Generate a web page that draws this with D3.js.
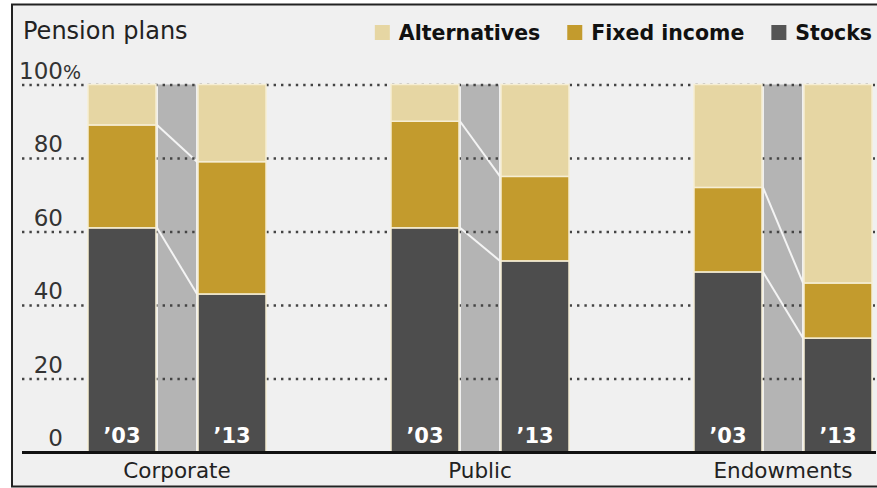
<!DOCTYPE html>
<html lang="en">
<head>
  <meta charset="UTF-8">
  <title>Pension plans</title>
  <style>
    body { margin: 0; background: #fff; }
    svg { display: block; }
    text { font-family: "DejaVu Sans", sans-serif; }
  </style>
</head>
<body>
  <svg width="877" height="488"></svg>

  <script src="https://d3js.org/d3.v7.min.js"></script>
  <script>
  // data (percent of portfolio)
  var groups = ["Corporate", "Public", "Endowments"];
  var years = ["\u201903", "\u201913"];
  var keys = ["Stocks", "Fixed income", "Alternatives"];
  var stocks = [[61, 43], [61, 52], [49, 31]];
  var fixedIncome = [[28, 36], [29, 23], [23, 15]];
  var alternatives = [[11, 21], [10, 25], [28, 54]];
  var yTicks = [0, 20, 40, 60, 80, 100];
  var legendOrder = ["Alternatives", "Fixed income", "Stocks"];

  var colors = {
    "Stocks": "#4d4d4d",
    "Fixed income": "#c39b2d",
    "Alternatives": "#e6d6a3"
  };

  var svg = d3.select("svg");

  // rows for the stack
  var rows = [];
  groups.forEach(function(g, i) {
    years.forEach(function(yr, j) {
      rows.push({
        group: g, year: yr,
        "Stocks": stocks[i][j],
        "Fixed income": fixedIncome[i][j],
        "Alternatives": alternatives[i][j]
      });
    });
  });
  var stacked = d3.stack().keys(keys)(rows);

  var x0 = d3.scaleBand().domain(groups).range([88, 872]).paddingInner(0.4125);
  var x1 = d3.scaleBand().domain(years).range([0, x0.bandwidth()]).paddingInner(0.382);
  var y = d3.scaleLinear().domain([0, 100]).range([452, 84.5]);

  // frame
  svg.append("rect")
    .attr("x", 12).attr("y", 4.5)
    .attr("width", 866).attr("height", 482)
    .attr("fill", "#f0f0f0")
    .attr("stroke", "#222").attr("stroke-width", 2);

  // grey connectors between the two years
  var bw = x1.bandwidth();
  var conn = svg.append("g").selectAll("g")
    .data(groups)
    .enter().append("g");

  conn.append("rect")
    .attr("x", function(g) { return x0(g) + x1(years[0]) + bw + 2; })
    .attr("width", function(g) { return x1(years[1]) - x1(years[0]) - bw - 4; })
    .attr("y", y(100))
    .attr("height", y(0) - y(100))
    .attr("fill", "#b4b4b4");

  // white slope lines at each boundary
  conn.each(function(g, gi) {
    var sel = d3.select(this);
    [0, 1].forEach(function(k) {
      var a = stacked[k][gi * 2][1], b = stacked[k][gi * 2 + 1][1];
      sel.append("line")
        .attr("x1", x0(g) + x1(years[0]) + bw + 1)
        .attr("x2", x0(g) + x1(years[1]) - 1)
        .attr("y1", y(a))
        .attr("y2", y(b))
        .attr("stroke", "#f4f4f4")
        .attr("stroke-width", 2);
    });
  });

  // dotted gridlines with labels above them
  var axis = svg.append("g")
    .attr("transform", "translate(22,0)")
    .call(d3.axisRight(y).tickValues(yTicks.filter(function(d) { return d > 0; })).tickSize(853).tickFormat(d3.format("d")));
  axis.select(".domain").remove();
  axis.selectAll(".tick line")
    .attr("stroke", "#444")
    .attr("stroke-width", 2.4)
    .attr("stroke-dasharray", "2.4,5");
  axis.selectAll(".tick text").remove();

  svg.append("g").selectAll("text")
    .data(yTicks)
    .enter().append("text")
    .attr("x", 63)
    .attr("y", function(d) { return y(d) - 6; })
    .attr("text-anchor", "end")
    .attr("font-size", 23)
    .attr("fill", "#333")
    .text(function(d) { return d; });
  svg.append("text")
    .attr("x", 63).attr("y", y(100) - 6)
    .attr("font-size", 19)
    .attr("fill", "#333")
    .text("%");

  // stacked bars
  svg.append("g").selectAll("g")
    .data(stacked)
    .enter().append("g")
    .attr("fill", function(d) { return colors[d.key]; })
    .selectAll("rect")
    .data(function(d) { return d; })
    .enter().append("rect")
    .attr("x", function(d) { return x0(d.data.group) + x1(d.data.year); })
    .attr("width", bw)
    .attr("y", function(d) { return y(d[1]); })
    .attr("height", function(d) { return y(d[0]) - y(d[1]); })
    .attr("stroke", "#f6eed4")
    .attr("stroke-width", 1.5);

  // year labels inside the bars
  svg.append("g").selectAll("text")
    .data(rows)
    .enter().append("text")
    .attr("x", function(d) { return x0(d.group) + x1(d.year) + bw / 2; })
    .attr("y", 443)
    .attr("text-anchor", "middle")
    .attr("font-family", "DejaVu Sans Condensed, DejaVu Sans")
    .attr("font-weight", "bold")
    .attr("font-size", 21)
    .attr("fill", "#fff")
    .text(function(d) { return d.year; });

  // baseline
  svg.append("line")
    .attr("x1", 22).attr("x2", 876)
    .attr("y1", y(0) + 0.5).attr("y2", y(0) + 0.5)
    .attr("stroke", "#111").attr("stroke-width", 3);

  // group labels
  svg.append("g").selectAll("text")
    .data(groups)
    .enter().append("text")
    .attr("x", function(g) { return x0(g) + x0.bandwidth() / 2; })
    .attr("y", 478)
    .attr("text-anchor", "middle")
    .attr("font-size", 21.5)
    .attr("fill", "#222")
    .text(function(g) { return g; });

  // title
  svg.append("text")
    .attr("x", 23).attr("y", 39)
    .attr("font-size", 24)
    .attr("fill", "#222")
    .text("Pension plans");

  // legend, laid out from the right edge
  var legend = svg.append("g");
  var lx = 872;
  legendOrder.slice().reverse().forEach(function(k) {
    var t = legend.append("text")
      .attr("y", 40)
      .attr("font-family", "DejaVu Sans Condensed, DejaVu Sans")
      .attr("font-weight", "bold")
      .attr("font-size", 20.5)
      .attr("fill", "#111")
      .text(k);
    var w = t.node().getComputedTextLength();
    t.attr("x", lx - w);
    legend.append("rect")
      .attr("x", lx - w - 24).attr("y", 25)
      .attr("width", 15).attr("height", 15)
      .attr("fill", k === "Stocks" ? "#555" : colors[k]);
    lx = lx - w - 24 - 27;
  });
  </script>
</body>
</html>
